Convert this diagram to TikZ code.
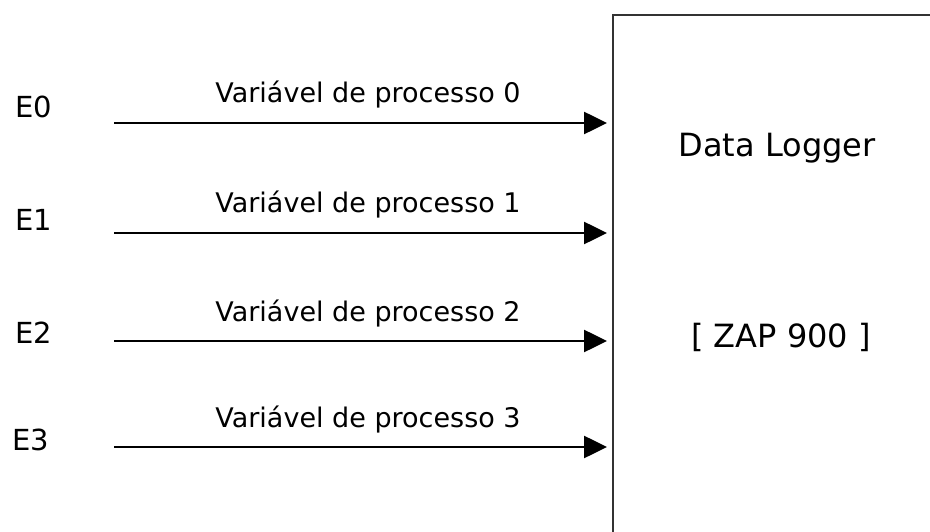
\documentclass[tikz,border=0pt]{standalone}
\usepackage{fontspec}
\setmainfont{DejaVu Sans}
\usetikzlibrary{arrows.meta}
\begin{document}
\begin{tikzpicture}[x=1pt, y=-1pt,
    entrada/.style={anchor=base west, inner sep=0pt, font=\fontsize{29}{32}\selectfont},
    rotulo/.style={anchor=base, inner sep=0pt, font=\fontsize{27}{30}\selectfont},
    titulo/.style={anchor=base, inner sep=0pt, font=\fontsize{32}{36}\selectfont},
    seta/.style={line width=2.6pt, -{Triangle[length=23pt, width=22pt]}, shorten >=5pt},
    bloco/.style={draw=black!80, line width=2.4pt, anchor=north west, minimum width=400pt, minimum height=600pt}]
            \useasboundingbox (0,0) rectangle (930,532);
            \clip (0,0) rectangle (930,532);

            % Bloco do registrador
            \node[bloco] (logger) at (612,14) {};
            \node[titulo] (nome) at (777,157) {Data Logger};
            \node[titulo] (modelo) at (781,347) {[ ZAP 900 ]};

            % Entradas
            \node[entrada] (e0) at (15,118) {E0};
            \node[entrada] (e1) at (15,231) {E1};
            \node[entrada] (e2) at (15,343) {E2};
            \node[entrada] (e3) at (12,450) {E3};

            % Inicio das setas
            \coordinate (s0) at (114,123);
            \coordinate (s1) at (114,233);
            \coordinate (s2) at (114,341);
            \coordinate (s3) at (114,447);

            % Setas com as variaveis de processo
            \draw[seta] (s0) -- node[rotulo, at start, xshift=254pt, yshift=20pt] (v0) {Variável de processo 0} (s0 -| logger.west);
            \draw[seta] (s1) -- node[rotulo, at start, xshift=254pt, yshift=20pt] (v1) {Variável de processo 1} (s1 -| logger.west);
            \draw[seta] (s2) -- node[rotulo, at start, xshift=254pt, yshift=20pt] (v2) {Variável de processo 2} (s2 -| logger.west);
            \draw[seta] (s3) -- node[rotulo, at start, xshift=254pt, yshift=20pt] (v3) {Variável de processo 3} (s3 -| logger.west);
\end{tikzpicture}
\end{document}
